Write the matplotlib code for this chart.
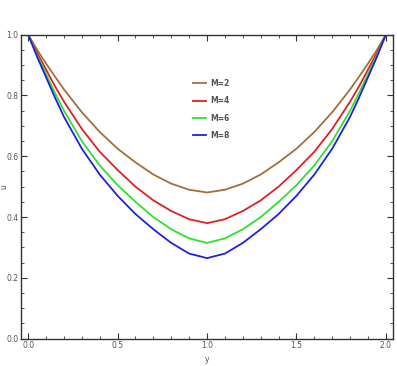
import matplotlib
matplotlib.use("Agg")
import matplotlib.pyplot as plt
from matplotlib.ticker import MultipleLocator

# values, left half (the curves are symmetric about y=1)
x_half = [0.0, 0.05, 0.1, 0.15, 0.2, 0.3, 0.4, 0.5, 0.6, 0.7, 0.8, 0.9, 1.0]
half_m2 = [1.0, 0.95, 0.905, 0.862, 0.82, 0.745, 0.68, 0.625, 0.58, 0.54, 0.51, 0.49, 0.481]
half_m4 = [1.0, 0.94, 0.885, 0.83, 0.78, 0.69, 0.615, 0.555, 0.50, 0.455, 0.42, 0.393, 0.38]
half_m6 = [1.0, 0.932, 0.87, 0.808, 0.75, 0.65, 0.57, 0.505, 0.45, 0.40, 0.36, 0.33, 0.315]
half_m8 = [1.0, 0.927, 0.86, 0.793, 0.73, 0.625, 0.54, 0.47, 0.41, 0.36, 0.315, 0.28, 0.265]

x = x_half + [2.0 - v for v in x_half[-2::-1]]
u_m2 = half_m2 + half_m2[-2::-1]
u_m4 = half_m4 + half_m4[-2::-1]
u_m6 = half_m6 + half_m6[-2::-1]
u_m8 = half_m8 + half_m8[-2::-1]

labels = ["M=2", "M=4", "M=6", "M=8"]
colors = ["#a0703c", "#e02020", "#30e030", "#2020e0"]

plt.rcParams['font.family'] = ['Liberation Sans Narrow', 'DejaVu Sans']

fig = plt.figure(figsize=(3.97, 3.66), dpi=100)
ax = fig.add_axes([0.053, 0.0746, 0.937, 0.8306])

for u, lab, c in zip([u_m2, u_m4, u_m6, u_m8], labels, colors):
    ax.plot(x, u, color=c, lw=1.3, label=lab)

ax.set_xlim(-0.04, 2.04)
ax.set_ylim(0, 1)
ax.xaxis.set_major_locator(MultipleLocator(0.5))
ax.xaxis.set_minor_locator(MultipleLocator(0.1))
ax.yaxis.set_major_locator(MultipleLocator(0.2))
ax.yaxis.set_minor_locator(MultipleLocator(0.05))
ax.tick_params(which="both", direction="in", top=True, right=True,
               color="#333333", labelsize=5.5, labelcolor="#555555", pad=2)
ax.tick_params(which="major", length=4, width=0.8)
ax.tick_params(which="minor", length=2, width=0.6)
for s in ax.spines.values():
    s.set_color("#333333")
    s.set_linewidth(1.0)

ax.set_xlabel("y", fontsize=5.5, color="#555555")
ax.set_ylabel("u", fontsize=5.5, color="#555555")
ax.xaxis.set_label_coords(0.5, -0.055)
ax.yaxis.set_label_coords(-0.033, 0.5)

leg = ax.legend(loc="upper left", bbox_to_anchor=(0.445, 0.877), frameon=False,
                fontsize=5.5, handlelength=1.7, labelspacing=1.1, handletextpad=0.5)
for t in leg.get_texts():
    t.set_color("#555555")
    t.set_fontweight("bold")

fig.savefig("out.png", dpi=100)
